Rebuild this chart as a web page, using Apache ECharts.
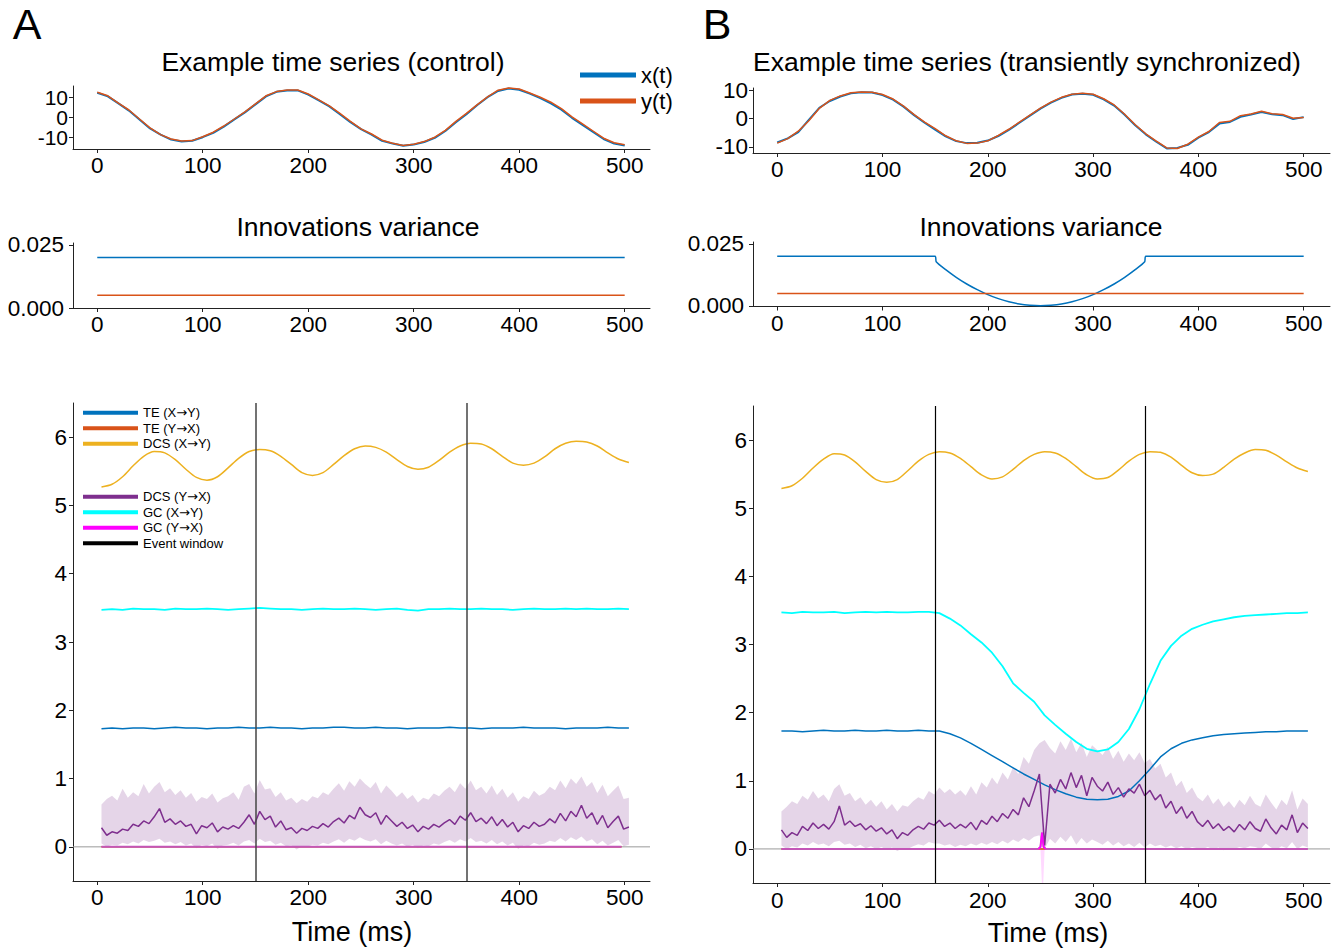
<!DOCTYPE html>
<html><head><meta charset="utf-8">
<script src="https://cdn.jsdelivr.net/npm/echarts@6/dist/echarts.min.js"></script>
<style>html,body{margin:0;padding:0;background:#fff}#c{width:1338px;height:949px}</style>
</head><body><div id="c"></div>
<script>
// ---------- DATA ----------
const tTop = [0,10,20,30,40,50,60,70,80,90,100,110,120,130,140,150,160,170,180,190,200,210,220,230,240,250,260,270,280,290,300,310,320,330,340,350,360,370,380,390,400,410,420,430,440,450,460,470,480,490,500];
const xA = [12.1,10.3,6.8,3.2,-1.2,-5.7,-8.8,-11.3,-12.3,-11.9, -10.1,-7.9,-4.8,-1.2,2.3,6.3,10.3,12.6,13.3,13.3, 11.2,8.3,5.3,1.4,-2.6,-6.1,-8.8,-11.9,-13.3,-14.4, -13.8,-12.5,-10.4,-7.0,-2.6,1.4,5.9,9.9,13.0,14.2, 13.6,11.7,9.4,6.8,3.7,-0.4,-3.9,-7.5,-11.0,-13.3, -14.2];
const yA = [12.4,10.6,6.9,3.5,-1.0,-5.4,-8.8,-11.0,-12.0,-11.8, -9.9,-7.6,-4.5,-1.0,2.6,6.6,10.6,12.7,13.5,13.5, 11.5,8.6,5.6,1.8,-2.2,-5.9,-8.5,-11.6,-13.1,-14.2, -13.6,-12.3,-10.1,-6.7,-2.2,1.8,6.1,10.1,13.4,14.5, 14.0,12.0,9.9,7.4,4.2,0.1,-3.4,-7.0,-10.6,-12.9, -13.9];
const xB = [-8.5,-7.0,-4.8,-0.5,3.8,6.2,7.8,8.9,9.3,9.2, 8.3,6.7,4.2,1.2,-1.5,-3.9,-6.3,-8.0,-8.7,-8.6, -7.8,-6.2,-4.0,-1.5,1.0,3.5,5.6,7.3,8.5,8.8, 8.4,6.8,4.6,1.3,-2.4,-5.6,-8.2,-10.6,-10.4,-9.3, -6.8,-4.8,-1.8,-1.2,0.6,1.4,2.3,1.5,1.2,-0.2, 0.5];
const yB = [-8.7,-7.1,-4.5,-0.8,3.6,6.4,8.0,9.1,9.4,9.3, 8.5,6.9,4.4,1.4,-1.3,-3.6,-6.1,-7.9,-8.8,-8.7, -7.9,-6.0,-3.8,-1.3,1.2,3.7,5.8,7.5,8.6,8.9, 8.6,7.0,4.8,1.5,-2.2,-5.4,-8.0,-10.4,-10.6,-9.1, -6.6,-4.6,-1.4,-1.0,1.0,1.6,2.6,1.7,1.4,0.1, 0.4];

const tInnovA = [0,500];
const innovXA = [0.02,0.02];
const innovYA = [0.005,0.005];
const tInnovB = [0,150,151,160,170,180,190,200,210,220,230,240,250,260,270,280,290,300,310,320,330,340,349,350,500];
const innovXB = [0.02,0.02,0.0178,0.0146,0.0115,0.0088,0.0065,0.0045,0.0029,0.0016,0.0007,0.0002,0.0,0.0002,0.0007,0.0016,0.0029,0.0045,0.0065,0.0088,0.0115,0.0146,0.0178,0.02,0.02];
const innovYB = [0.005,0.005,0.005,0.005,0.005,0.005,0.005,0.005,0.005,0.005,0.005,0.005,0.005,0.005,0.005,0.005,0.005,0.005,0.005,0.005,0.005,0.005,0.005,0.005,0.005];

const tS = [4,14,24,34,44,54,64,74,84,94,104,114,124,134,144,154,164,174,184,194,204,214,224,234,244,254,264,274,284,294,304,314,324,334,344,354,364,374,384,394,404,414,424,434,444,454,464,474,484,494,504];
const dcsXY_A = [5.27,5.31,5.42,5.58,5.72,5.79,5.77,5.67,5.53,5.41, 5.37,5.42,5.55,5.69,5.79,5.82,5.80,5.72,5.60,5.48, 5.44,5.48,5.60,5.73,5.83,5.87,5.85,5.78,5.67,5.57, 5.53,5.56,5.66,5.78,5.87,5.91,5.90,5.83,5.72,5.62, 5.59,5.62,5.71,5.83,5.91,5.94,5.93,5.87,5.77,5.68, 5.63];
const gcXY_A = [3.47,3.48,3.47,3.49,3.48,3.48,3.47,3.49,3.48,3.48, 3.49,3.48,3.47,3.48,3.49,3.50,3.49,3.48,3.48,3.47, 3.48,3.49,3.48,3.48,3.49,3.48,3.47,3.48,3.49,3.47, 3.46,3.48,3.48,3.49,3.48,3.48,3.49,3.48,3.48,3.47, 3.48,3.49,3.48,3.48,3.49,3.48,3.49,3.48,3.48,3.49, 3.48];
const teXY_A = [1.73,1.74,1.73,1.74,1.74,1.73,1.74,1.75,1.74,1.74, 1.73,1.74,1.74,1.75,1.74,1.74,1.75,1.74,1.74,1.73, 1.74,1.74,1.75,1.75,1.74,1.74,1.75,1.74,1.74,1.73, 1.74,1.74,1.74,1.75,1.74,1.74,1.73,1.74,1.74,1.74, 1.75,1.74,1.74,1.74,1.73,1.74,1.74,1.74,1.75,1.74, 1.74];
const dcsXY_B = [5.29,5.33,5.44,5.59,5.72,5.80,5.78,5.68,5.54,5.42, 5.38,5.42,5.55,5.69,5.79,5.83,5.81,5.73,5.61,5.49, 5.43,5.46,5.57,5.70,5.79,5.83,5.81,5.73,5.61,5.49, 5.43,5.45,5.56,5.69,5.79,5.83,5.82,5.75,5.63,5.52, 5.48,5.50,5.60,5.72,5.81,5.86,5.85,5.78,5.68,5.59, 5.54];
const gcXY_B = [3.47,3.46,3.48,3.47,3.47,3.48,3.46,3.47,3.48,3.47, 3.48,3.47,3.47,3.48,3.48,3.46,3.38,3.28,3.15,3.03, 2.88,2.68,2.43,2.29,2.16,1.96,1.82,1.69,1.57,1.47, 1.43,1.46,1.57,1.76,2.05,2.42,2.76,2.98,3.13,3.23, 3.29,3.34,3.37,3.40,3.42,3.43,3.44,3.45,3.46,3.46, 3.47];
const teXY_B = [1.73,1.73,1.72,1.73,1.74,1.73,1.73,1.74,1.73,1.73, 1.74,1.73,1.73,1.74,1.73,1.73,1.69,1.63,1.55,1.46, 1.37,1.28,1.19,1.10,1.02,0.94,0.87,0.81,0.76,0.73, 0.72,0.73,0.77,0.85,1.00,1.17,1.35,1.47,1.55,1.60, 1.63,1.66,1.68,1.69,1.70,1.71,1.72,1.72,1.73,1.73, 1.73];

const tN = [4,9,14,19,24,29,34,39,44,49,54,59,64,69,74,79,84,89,94,99,104,109,114,119,124,129,134,139,144,149,154,159,164,169,174,179,184,189,194,199,204,209,214,219,224,229,234,239,244,249,254,259,264,269,274,279,284,289,294,299,304,309,314,319,324,329,334,339,344,349,354,359,364,369,374,379,384,389,394,399,404,409,414,419,424,429,434,439,444,449,454,459,464,469,474,479,484,489,494,499,504];
const dcsYX_A = [0.28,0.17,0.22,0.20,0.26,0.24,0.33,0.30,0.38,0.34, 0.44,0.56,0.36,0.41,0.33,0.38,0.30,0.33,0.19,0.31, 0.28,0.35,0.22,0.29,0.26,0.31,0.27,0.36,0.47,0.33, 0.52,0.40,0.45,0.29,0.38,0.25,0.28,0.20,0.27,0.24, 0.30,0.27,0.34,0.29,0.37,0.42,0.35,0.46,0.41,0.58, 0.47,0.43,0.50,0.33,0.46,0.38,0.30,0.36,0.27,0.32, 0.22,0.30,0.26,0.33,0.29,0.35,0.40,0.33,0.45,0.39, 0.50,0.37,0.42,0.34,0.44,0.31,0.40,0.29,0.36,0.22, 0.31,0.27,0.36,0.30,0.33,0.41,0.35,0.49,0.38,0.52, 0.44,0.61,0.42,0.50,0.33,0.46,0.28,0.37,0.45,0.26, 0.29];
const dcsYX_A_hi = [0.62,0.70,0.75,0.68,0.85,0.72,0.80,0.74,0.92,0.78, 0.88,0.95,0.80,0.86,0.76,0.83,0.72,0.79,0.66,0.73, 0.70,0.78,0.65,0.71,0.74,0.80,0.69,0.88,0.92,0.78, 0.98,0.84,0.86,0.73,0.80,0.68,0.72,0.64,0.70,0.66, 0.74,0.71,0.80,0.76,0.85,0.93,0.82,0.96,0.88,1.00, 0.92,0.86,0.95,0.78,0.90,0.82,0.73,0.80,0.70,0.76, 0.65,0.72,0.69,0.78,0.74,0.82,0.88,0.80,0.93,0.85, 0.97,0.83,0.88,0.78,0.90,0.76,0.85,0.72,0.80,0.66, 0.74,0.70,0.82,0.75,0.79,0.88,0.83,0.97,0.86,1.00, 0.92,1.03,0.88,0.95,0.79,0.91,0.74,0.82,0.90,0.70, 0.72];
const dcsYX_A_lo = [0.05,0.00,0.03,0.02,0.06,0.04,0.08,0.05,0.10,0.07, 0.09,0.12,0.06,0.08,0.04,0.07,0.02,0.05,-0.02,0.03, 0.01,0.05,-0.03,0.02,0.03,0.06,0.02,0.08,0.10,0.05, 0.12,0.07,0.09,0.03,0.06,0.01,0.02,-0.04,0.01,0.00, 0.03,0.02,0.06,0.04,0.08,0.11,0.06,0.12,0.09,0.14, 0.10,0.08,0.11,0.04,0.09,0.05,0.02,0.05,0.00,0.03, -0.02,0.02,0.01,0.05,0.03,0.07,0.10,0.06,0.11,0.08, 0.13,0.07,0.09,0.05,0.10,0.04,0.08,0.02,0.06,-0.03, 0.02,0.01,0.06,0.03,0.05,0.09,0.07,0.13,0.08,0.14, 0.10,0.15,0.08,0.11,0.04,0.09,0.02,0.06,0.10,0.01, 0.03];
const dcsYX_B = [0.28,0.17,0.24,0.20,0.33,0.27,0.38,0.30,0.36,0.29, 0.40,0.63,0.35,0.41,0.33,0.37,0.28,0.34,0.26,0.31, 0.22,0.28,0.15,0.24,0.20,0.28,0.33,0.29,0.38,0.35, 0.42,0.33,0.38,0.30,0.36,0.31,0.39,0.28,0.42,0.36, 0.48,0.40,0.52,0.45,0.58,0.50,0.75,0.62,0.85,1.10, 0.05,0.95,0.82,1.02,0.88,1.12,0.90,1.08,0.78,1.05, 0.92,0.85,0.98,0.80,0.90,0.76,0.88,0.82,0.95,0.78, 0.86,0.72,0.80,0.60,0.70,0.52,0.62,0.45,0.55,0.40, 0.33,0.42,0.30,0.37,0.27,0.33,0.25,0.36,0.28,0.40, 0.30,0.26,0.44,0.31,0.22,0.35,0.28,0.50,0.24,0.38, 0.30];
const dcsYX_B_hi = [0.55,0.62,0.70,0.66,0.78,0.72,0.85,0.74,0.80,0.70, 0.88,0.95,0.78,0.82,0.70,0.76,0.65,0.72,0.62,0.70, 0.58,0.66,0.55,0.64,0.62,0.70,0.76,0.72,0.85,0.80, 0.90,0.82,0.88,0.80,0.86,0.78,0.92,0.80,0.98,0.90, 1.05,0.95,1.12,1.02,1.20,1.10,1.35,1.25,1.45,1.55, 1.60,1.48,1.40,1.58,1.45,1.62,1.42,1.56,1.35,1.52, 1.45,1.38,1.50,1.32,1.44,1.28,1.40,1.30,1.42,1.26, 1.32,1.18,1.25,1.05,1.12,0.92,1.00,0.82,0.90,0.76, 0.70,0.80,0.66,0.74,0.62,0.70,0.60,0.72,0.64,0.78, 0.66,0.62,0.80,0.68,0.58,0.72,0.64,0.86,0.58,0.74, 0.66];
const dcsYX_B_lo = [0.05,0.00,0.04,0.02,0.08,0.05,0.10,0.06,0.08,0.04, 0.10,0.12,0.06,0.08,0.03,0.06,0.01,0.04,0.00,0.03, -0.01,0.02,-0.03,0.01,0.00,0.04,0.07,0.05,0.10,0.08, 0.08,0.05,0.07,0.03,0.06,0.04,0.08,0.05,0.09,0.06, 0.10,0.07,0.12,0.08,0.14,0.10,0.16,0.12,0.18,0.20, 0.00,0.15,0.08,0.18,0.10,0.20,0.06,0.16,0.08,0.14, 0.10,0.06,0.12,0.05,0.10,0.04,0.08,0.03,0.09,0.02, 0.08,0.04,0.06,0.02,0.05,0.01,0.04,0.00,0.03,0.01, 0.00,0.03,-0.01,0.02,-0.02,0.01,0.00,0.03,0.01,0.04, 0.03,0.00,0.08,0.02,-0.01,0.04,0.01,0.10,0.00,0.05, 0.02];

const tGC_A = [4,497];
const gcYX_A = [0,0];
const tGC_B = [4,248,250,251.5,253,255,504];
const gcYX_B = [0,0,0.03,0.24,0.03,0,0];
const tGCband_B = [250,251.5,252.5,254];
const gcYX_B_lo = [0,-0.55,-0.55,0];
const gcYX_B_hi = [0,0.3,0.3,0];
const tTE = [4,497];
const teYX_A = [0,0];
const teYX_B = [0,0];
const eventWindow = [150,350];
const xTicks = [0,100,200,300,400,500];
const topYTicksA = [-10,10];
const topYTicksA0 = [0];
const topYTicksB = [-10,0,10];
const innovTicks = [0,0.025];
const bottomYTicks = [0,1,2,3,4,5,6];

// ---------- CHART ----------
const C = {blue:'#0072BD', red:'#D95319', yel:'#EDB120', pur:'#7E2F8E', cyan:'#00FFFF', mag:'#FF00FF'};
const FONT = 'Liberation Sans, Arial, Helvetica, sans-serif';
const TICK = 22.5;
const pair = (t, v) => t.map((x, i) => [x, v[i]]);

const grids = [
  {left:73, top:86, width:577, height:63},      // A top
  {left:73, top:243, width:577, height:65},     // A innov
  {left:73, top:403, width:577, height:478},    // A bottom
  {left:753, top:88, width:577, height:65},     // B top
  {left:753, top:242, width:577, height:64.5},  // B innov
  {left:753, top:406, width:577, height:477}    // B bottom
].map(g => Object.assign({containLabel:false, outerBoundsMode:'none'}, g));

function xAx(i, min, max, margin) {
  return {gridIndex:i, type:'value', min, max,
    axisLine:{show:true, onZero:false, lineStyle:{color:'#222', width:1}},
    axisTick:{show:true, length:4, customValues:xTicks, lineStyle:{color:'#222'}},
    axisLabel:{customValues:xTicks, fontSize:TICK, color:'#000', fontFamily:FONT, margin:margin||5,
      hideOverlap:false, showMinLabel:true, showMaxLabel:true},
    splitLine:{show:false}};
}
function yAx(i, min, max, ticks, fmt, margin, lineShow, fs) {
  return {gridIndex:i, type:'value', min, max, position:'left', offset:0,
    axisLine:{show:lineShow !== false, onZero:false, lineStyle:{color:'#222', width:1}},
    axisTick:{show:true, length:4, customValues:ticks, lineStyle:{color:'#222'}},
    axisLabel:{customValues:ticks, fontSize:fs||TICK, lineHeight:15, color:'#000', fontFamily:FONT, margin:margin||6,
      formatter:fmt, hideOverlap:false, showMinLabel:true, showMaxLabel:true},
    splitLine:{show:false}};
}

function line(name, xi, data, color, width, extra) {
  return Object.assign({name, type:'line', xAxisIndex:xi, yAxisIndex:xi, data, showSymbol:false, symbol:'none',
    color, lineStyle:{color, width:width||1.5}, silent:true, z:3}, extra||{});
}
function band(name, xi, t, lo, hi, fill) {
  return {name, type:'custom', xAxisIndex:xi, yAxisIndex:xi, silent:true, z:2, clip:true,
    data: t.map((x, i) => [x, lo[i], hi[i]]),
    renderItem(params, api) {
      if (params.dataIndex !== 0) return null;
      const pts = [];
      for (let i = 0; i < t.length; i++) pts.push(api.coord([t[i], hi[i]]));
      for (let i = t.length - 1; i >= 0; i--) pts.push(api.coord([t[i], lo[i]]));
      return {type:'polygon', shape:{points:pts}, style:{fill, stroke:null}};
    }};
}
function zeroLine(xi, min, max) {
  return line('zero'+xi, xi, [[min,0],[max,0]], '#999', 1, {z:1});
}
function eventSeries(xi, color, width) {
  return {name:'Event window', type:'line', xAxisIndex:xi, yAxisIndex:xi, data:[], color,
    lineStyle:{color, width}, silent:true, z:2,
    markLine:{symbol:'none', silent:true, label:{show:false}, animation:false,
      lineStyle:{color, width, type:'solid'},
      data: eventWindow.map(v => ({xAxis:v}))}};
}

const fmtTop = v => String(v);
const fmtInnov = v => v.toFixed(3);
const MAUVE = '#c456b8';

const series = [
  // A top
  line('x(t)', 0, pair(tTop, xA), C.blue, 2),
  line('y(t)', 0, pair(tTop, yA), C.red, 1.5, {z:4}),
  // A innov
  line('innovX_A', 1, pair(tInnovA, innovXA), C.blue, 1.5),
  line('innovY_A', 1, pair(tInnovA, innovYA), C.red, 1.5),
  // A bottom
  zeroLine(2, -23, 524),
  eventSeries(2, '#444', 1.5),
  line('TE (Y→X)', 2, pair(tTE, teYX_A), C.red, 1.5),
  line('GC (Y→X)', 2, pair(tGC_A, gcYX_A), C.mag, 2, {lineStyle:{color:MAUVE, width:2}}),
  band('bandA', 2, tN, dcsYX_A_lo, dcsYX_A_hi, 'rgba(126,47,142,0.2)'),
  line('DCS (Y→X)', 2, pair(tN, dcsYX_A), C.pur, 1.5, {z:4}),
  line('TE (X→Y)', 2, pair(tS, teXY_A), C.blue, 1.5),
  line('GC (X→Y)', 2, pair(tS, gcXY_A), C.cyan, 1.8),
  line('DCS (X→Y)', 2, pair(tS, dcsXY_A), C.yel, 1.5, {smooth:0.3}),
  // B top
  line('xB', 3, pair(tTop, xB), C.blue, 2),
  line('yB', 3, pair(tTop, yB), C.red, 1.5, {z:4}),
  // B innov
  line('innovX_B', 4, pair(tInnovB, innovXB), C.blue, 1.5, {smooth:0.2}),
  line('innovY_B', 4, pair(tInnovB, innovYB), C.red, 1.5),
  // B bottom
  zeroLine(5, -23, 525),
  eventSeries(5, '#000', 1.2),
  line('teYX_B', 5, pair(tTE, teYX_B), C.red, 1.5),
  band('bandGC_B', 5, tGCband_B, gcYX_B_lo, gcYX_B_hi, 'rgba(255,0,255,0.15)'),
  line('gcYX_B', 5, pair(tGC_B, gcYX_B), C.mag, 2, {lineStyle:{color:MAUVE, width:2}}),
  band('bandB', 5, tN, dcsYX_B_lo, dcsYX_B_hi, 'rgba(126,47,142,0.2)'),
  line('dcsYX_B', 5, pair(tN, dcsYX_B), C.pur, 1.5, {z:4}),
  line('gcYX_B_spike', 5, pair(tGC_B.slice(1,6), gcYX_B.slice(1,6)), C.mag, 1.5, {z:5}),
  line('teXY_B', 5, pair(tS, teXY_B), C.blue, 1.5),
  line('gcXY_B', 5, pair(tS, gcXY_B), C.cyan, 1.8),
  line('dcsXY_B', 5, pair(tS, dcsXY_B), C.yel, 1.5, {smooth:0.3})
];

const legItem = (name, color) => ({name, itemStyle:{color, opacity:1, borderWidth:0}});
const legBase = {orient:'vertical', icon:'rect', itemWidth:55, itemHeight:4, itemGap:2, selectedMode:false,
  formatter: n => n.replace('→', '{a|→}'),
  textStyle:{fontSize:13, color:'#000', fontFamily:FONT, lineHeight:13.5,
    rich:{a:{fontFamily:'DejaVu Sans', fontSize:13, color:'#000', lineHeight:13.5}}}, padding:0};

const texts = [
  {t:'A', x:27, y:24, s:43}, {t:'B', x:717, y:24, s:43},
  {t:'Example time series (control)', x:333, y:62, s:26.5},
  {t:'Example time series (transiently synchronized)', x:1027, y:62, s:26.5},
  {t:'Innovations variance', x:358, y:227, s:26.5},
  {t:'Innovations variance', x:1041, y:227, s:26.5},
  {t:'Time (ms)', x:352, y:932, s:27},
  {t:'Time (ms)', x:1048, y:933, s:27}
];

const option = {
  animation:false,
  backgroundColor:'#fff',
  grid: grids,
  xAxis: [xAx(0,-23,524), xAx(1,-23,524,5), xAx(2,-23,524,5),
          xAx(3,-23,525), xAx(4,-23,525), xAx(5,-23,525,6)],
  yAxis: [yAx(0,-16,15.5,topYTicksA,fmtTop,5,true,21), yAx(1,0,0.0257,innovTicks,fmtInnov,9), yAx(2,-0.5,6.5,bottomYTicks,fmtTop,6),
          yAx(3,-12.2,10.8,topYTicksB,fmtTop,5), yAx(4,-0.0003,0.0258,innovTicks,fmtInnov,9), yAx(5,-0.5,6.5,bottomYTicks,fmtTop,6),
          yAx(0,-16,15.5,topYTicksA0,fmtTop,5,false,21)],
  legend: [
    Object.assign({}, legBase, {left:580, top:63, itemWidth:56, itemHeight:5, itemGap:2, formatter:null,
      textStyle:{fontSize:22, color:'#000', fontFamily:FONT, lineHeight:24},
      data:[legItem('x(t)', C.blue), legItem('y(t)', C.red)]}),
    Object.assign({}, legBase, {left:83, top:406,
      data:[legItem('TE (X→Y)', C.blue), legItem('TE (Y→X)', C.red), legItem('DCS (X→Y)', C.yel)]}),
    Object.assign({}, legBase, {left:83, top:490,
      data:[legItem('DCS (Y→X)', C.pur), legItem('GC (X→Y)', C.cyan), legItem('GC (Y→X)', C.mag), legItem('Event window', '#000')]})
  ],
  graphic: texts.map(o => ({type:'text', x:o.x, y:o.y, silent:true,
    style:{text:o.t, fill:'#000', font:o.s + 'px ' + FONT, textAlign:'center', textVerticalAlign:'middle'}})),
  series
};

const chart = echarts.init(document.getElementById('c'), null, {renderer:'svg', width:1338, height:949});
chart.setOption(option);
</script>
</body></html>
